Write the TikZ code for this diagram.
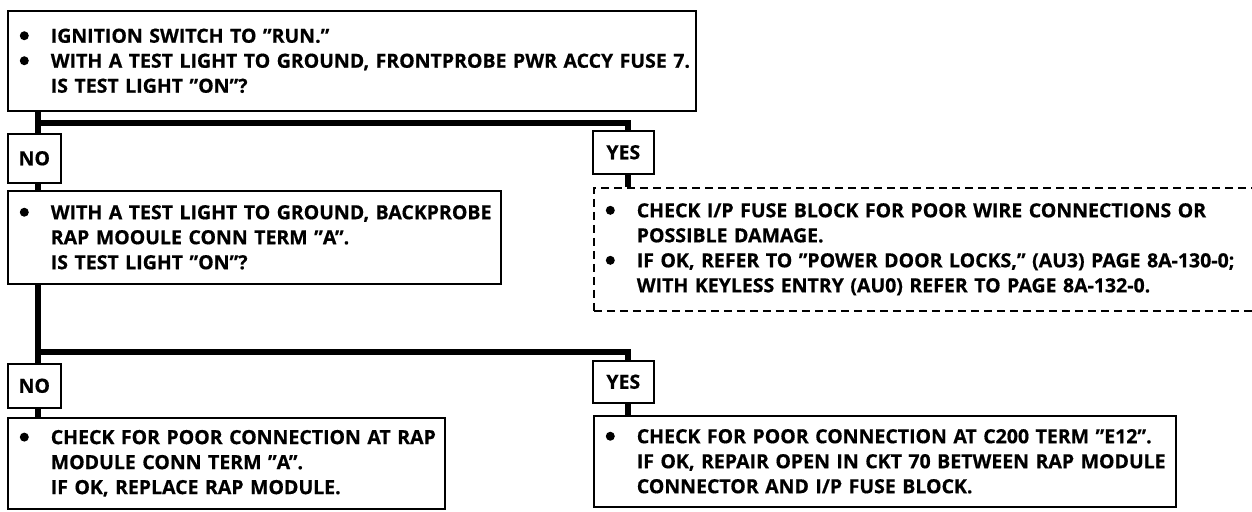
\documentclass[tikz,border=0pt]{standalone}
\usepackage{fontspec}
\setmainfont{Open Sans}[BoldFeatures={FakeBold=0.6}]
\usetikzlibrary{positioning}
\tikzset{
	box/.style={draw, line width=1.6pt, inner xsep=12pt, inner ysep=0pt, anchor=north west, align=left, font=\bfseries\fontsize{19.5}{25}\selectfont},
	dashbox/.style={box, dash pattern=on 8pt off 5pt},
	answer/.style={draw, line width=1.6pt, inner sep=0pt, anchor=north west, font=\bfseries\fontsize{19.5}{25}\selectfont},
	trunk/.style={line width=5.5pt},
}
\newcommand{\bul}[1]{\makebox[31pt][l]{\tikz[baseline=-7pt]\fill (4.5pt,0) circle (4.5pt);}\mbox{#1}}
\newcommand{\ind}[1]{\hspace*{31pt}\mbox{#1}}

\begin{document}
\begin{tikzpicture}[x=1pt,y=-1pt]
	\useasboundingbox (0,0) rectangle (1252,511);
	\clip (0,0) rectangle (1252,511);
	
	% first question
	\node[box, text width=664pt, minimum height=100pt] (fuse) at (7,10)
		{\bul{IGNITION SWITCH TO "RUN."}\\
		 \bul{WITH A TEST LIGHT TO GROUND, FRONTPROBE PWR ACCY FUSE 7.}\\
		 \ind{IS TEST LIGHT "ON"?}};
	\node[answer, minimum width=53pt, minimum height=49pt] (no1) at (7,133) {NO};
	\node[answer, minimum width=61pt, minimum height=43pt] (yes1) at (592,130) {YES};
	
	% second question and first result
	\node[box, text width=469pt, minimum height=93pt] (test) at (7,190)
		{\bul{WITH A TEST LIGHT TO GROUND, BACKPROBE}\\
		 \ind{RAP MOOULE CONN TERM "A".}\\
		 \ind{IS TEST LIGHT "ON"?}};
	\node[dashbox, text width=676pt, minimum height=123pt] (check) at (593,187)
		{\bul{CHECK I/P FUSE BLOCK FOR POOR WIRE CONNECTIONS OR}\\
		 \ind{POSSIBLE DAMAGE.}\\
		 \bul{IF OK, REFER TO "POWER DOOR LOCKS," (AU3) PAGE 8A-130-0;}\\
		 \ind{WITH KEYLESS ENTRY (AU0) REFER TO PAGE 8A-132-0.}};
	\node[answer, minimum width=53pt, minimum height=44pt] (no2) at (7,363) {NO};
	\node[answer, minimum width=61pt, minimum height=42pt] (yes2) at (592,360) {YES};
	
	% last results
	\node[box, text width=413pt, minimum height=91pt] (rap) at (7,417)
		{\bul{CHECK FOR POOR CONNECTION AT RAP}\\
		 \ind{MODULE CONN TERM "A".}\\
		 \ind{IF OK, REPLACE RAP MODULE.}};
	\node[box, text width=558pt, minimum height=91pt] (conn) at (593,415)
		{\bul{CHECK FOR POOR CONNECTION AT C200 TERM "E12".}\\
		 \ind{IF OK, REPAIR OPEN IN CKT 70 BETWEEN RAP MODULE}\\
		 \ind{CONNECTOR AND I/P FUSE BLOCK.}};
	
	% branches
	\coordinate (j1) at (38,123);
	\coordinate (k1) at (628,123);
	\coordinate (j2) at (38,352);
	\coordinate (k2) at (628,352);
	\draw[trunk] (fuse.south -| j1) -- (no1.north -| j1);
	\draw[trunk] (j1) -- (k1) -- (yes1.north -| k1);
	\draw[trunk] (no1.south -| j1) -- (test.north -| j1);
	\draw[trunk] (yes1.south -| k1) -- (check.north -| k1);
	\draw[trunk] (test.south -| j2) -- (no2.north -| j2);
	\draw[trunk] (j2) -- (k2) -- (yes2.north -| k2);
	\draw[trunk] (no2.south -| j2) -- (rap.north -| j2);
	\draw[trunk] (yes2.south -| k2) -- (conn.north -| k2);
	
\end{tikzpicture}
\end{document}
